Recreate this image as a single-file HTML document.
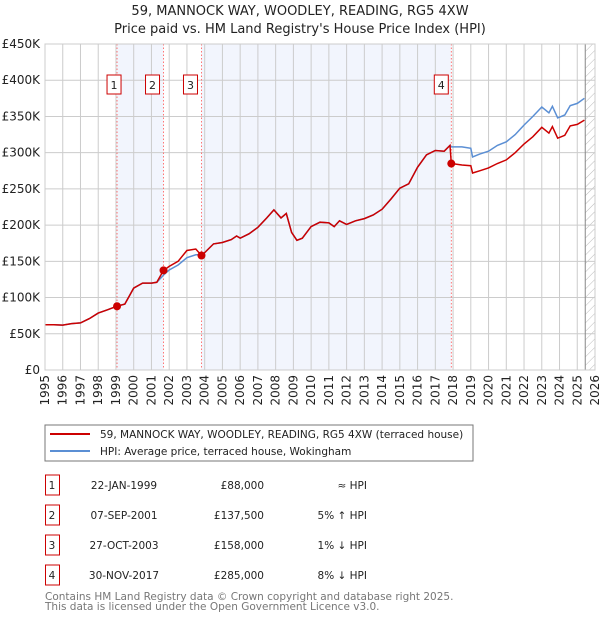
<!DOCTYPE html>
<html><head><meta charset="utf-8"><style>
body{margin:0;background:#fff;font-family:"DejaVu Sans","Liberation Sans",sans-serif;}
svg text{font-family:"DejaVu Sans","Liberation Sans",sans-serif;}
</style></head><body>
<svg id="c" width="600" height="620" xmlns="http://www.w3.org/2000/svg">
<defs><pattern id="hatch" width="6" height="6" patternUnits="userSpaceOnUse" patternTransform="rotate(45)"><line x1="0" y1="0" x2="0" y2="6" stroke="#bbb" stroke-width="1"/></pattern></defs>
<text x="300" y="15" text-anchor="middle" font-size="13" fill="#222">59, MANNOCK WAY, WOODLEY, READING, RG5 4XW</text>
<text x="300" y="33" text-anchor="middle" font-size="13" fill="#222">Price paid vs. HM Land Registry's House Price Index (HPI)</text>
<g id="plot"></g>
<rect x="45" y="425" width="428" height="36" fill="#fff" stroke="#777"/>
<line x1="50" y1="434" x2="90" y2="434" stroke="#c00" stroke-width="2"/>
<text x="100" y="438" font-size="10.5" fill="#222">59, MANNOCK WAY, WOODLEY, READING, RG5 4XW (terraced house)</text>
<line x1="50" y1="451" x2="90" y2="451" stroke="#5b8fd4" stroke-width="2"/>
<text x="100" y="455" font-size="10.5" fill="#222">HPI: Average price, terraced house, Wokingham</text>
<g id="table"></g>
<text x="45" y="600" font-size="10.5" fill="#777">Contains HM Land Registry data © Crown copyright and database right 2025.</text>
<text x="45" y="610" font-size="10.5" fill="#777">This data is licensed under the Open Government Licence v3.0.</text>
</svg>
<script>
const years=[1995,1995.5,1996,1996.5,1997,1997.5,1998,1998.5,1999.06,1999.5,2000,2000.5,2001,2001.3,2001.68,2002,2002.5,2003,2003.5,2003.82,2004,2004.5,2005,2005.5,2005.8,2006,2006.5,2007,2007.5,2007.9,2008.3,2008.6,2008.9,2009.2,2009.5,2010,2010.5,2011,2011.3,2011.6,2012,2012.5,2013,2013.5,2014,2014.5,2015,2015.5,2016,2016.5,2017,2017.5,2017.83,2017.9,2018.5,2019,2019.1,2019.5,2020,2020.5,2021,2021.5,2022,2022.5,2023,2023.4,2023.6,2023.9,2024.3,2024.6,2025,2025.4];
const hpiValues=[62.5,62.5,62,64,65,71,78.5,83,88,91,113,120,120,121,131,138,145,155,159,159,162,174,176,180,185,182,188,197,210,221,210,216,190,179,182,198,204,203,198,206,201,206,209,214,222,236,251,257,280,297,303,302,310,308,308,306,294,298,302,310,315,325,338,350,363,355,364,348,352,365,368,375];
const propertyValues=[62.5,62.5,62,64,65,71,78.5,83,88,91,113,120,120,121,137.5,143,150,165,167,158,162,174,176,180,185,182,188,197,210,221,210,216,190,179,182,198,204,203,198,206,201,206,209,214,222,236,251,257,280,297,303,302,310,285,283,282,272,275,279,285,290,300,312,322,335,327,336,320,324,337,339,345];
const sales=[{n:"1",y:1999.06,v:88,d:"22-JAN-1999",p:"£88,000",h:"≈ HPI"},{n:"2",y:2001.68,v:137.5,d:"07-SEP-2001",p:"£137,500",h:"5% ↑ HPI"},{n:"3",y:2003.82,v:158,d:"27-OCT-2003",p:"£158,000",h:"1% ↓ HPI"},{n:"4",y:2017.9,v:285,d:"30-NOV-2017",p:"£285,000",h:"8% ↓ HPI"}];
const yTicks=[0,50,100,150,200,250,300,350,400,450];
const yTickLabels=["£0","£50K","£100K","£150K","£200K","£250K","£300K","£350K","£400K","£450K"];
const NS="http://www.w3.org/2000/svg";
const L=45,R=595,T=44,B=370,Y0=1995,Y1=2026,VMAX=450;
const xs=y=>L+(y-Y0)/(Y1-Y0)*(R-L);
const ys=v=>B-v/VMAX*(B-T);
const g=document.getElementById('plot');
function mk(tag,a,parent){const e=document.createElementNS(NS,tag);for(const k in a)e.setAttribute(k,a[k]);(parent||g).appendChild(e);return e;}
const shades=[[sales[0].y,sales[1].y],[sales[2].y,sales[3].y]];
shades.forEach((s,i)=>{const r=mk('rect',{x:xs(s[0]),y:T,width:xs(s[1])-xs(s[0]),height:B-T,fill:'#f2f5fd'});

});
const hx=xs(2025.45);
const hr=mk('rect',{x:hx,y:T,width:R-hx,height:B-T,fill:'url(#hatch)'});


for(let y=Y0;y<=Y1;y++){const l=mk('line',{x1:xs(y),y1:T,x2:xs(y),y2:B,stroke:'#ccc'});


const t=mk('text',{x:0,y:0,'font-size':12,fill:'#222','text-anchor':'end',transform:`translate(${xs(y)+4},375) rotate(-90)`});t.textContent=y;

}
yTicks.forEach((v,i)=>{const l=mk('line',{x1:L,y1:ys(v),x2:R,y2:ys(v),stroke:'#ccc'});


const t=mk('text',{x:40,y:ys(v)+4,'font-size':12,fill:'#222','text-anchor':'end'});t.textContent=yTickLabels[i];

});
const hl=mk('line',{x1:hx,y1:T,x2:hx,y2:B,stroke:'#888'});


sales.forEach(s=>{const l=mk('line',{x1:xs(s.y),y1:T,x2:xs(s.y),y2:B,stroke:'#f55','stroke-width':0.8,'stroke-dasharray':'1.5,2'});


const bx=xs(s.y)-(s.n==="4"?10:s.n==="1"?3:11);
const r=mk('rect',{x:bx-7,y:75,width:14,height:19,fill:'#fff',stroke:'#c00'});


const t=mk('text',{x:bx,y:89,'font-size':11,fill:'#222','text-anchor':'middle'});t.textContent=s.n;

});
function path(vals){return vals.map((v,i)=>(i?'L':'M')+xs(years[i]).toFixed(1)+','+ys(v).toFixed(1)).join('');}
const hp=mk('path',{d:path(hpiValues),fill:'none',stroke:'#5b8fd4','stroke-width':1.5});


const pp=mk('path',{d:path(propertyValues),fill:'none',stroke:'#c00','stroke-width':1.5});


sales.forEach(s=>{const c=mk('circle',{cx:xs(s.y),cy:ys(s.v),r:4,fill:'#c00'});

});
const pb=mk('rect',{x:L,y:T,width:R-L,height:B-T,fill:'none',stroke:'#ccc'});


const tb=document.getElementById('table');
sales.forEach((s,i)=>{const y=483+i*30;
const r=mk('rect',{x:45.5,y:y-8,width:14,height:20,fill:'none',stroke:'#c00'},tb);


const cells=[[52,'middle',s.n],[124,'middle',s.d],[264,'end',s.p],[367,'end',s.h]];
cells.forEach(c=>{const t=mk('text',{x:c[0],y:y+6,'font-size':10.5,fill:'#222','text-anchor':c[1]},tb);
t.textContent=c[2];

});});
</script>
</body></html>
